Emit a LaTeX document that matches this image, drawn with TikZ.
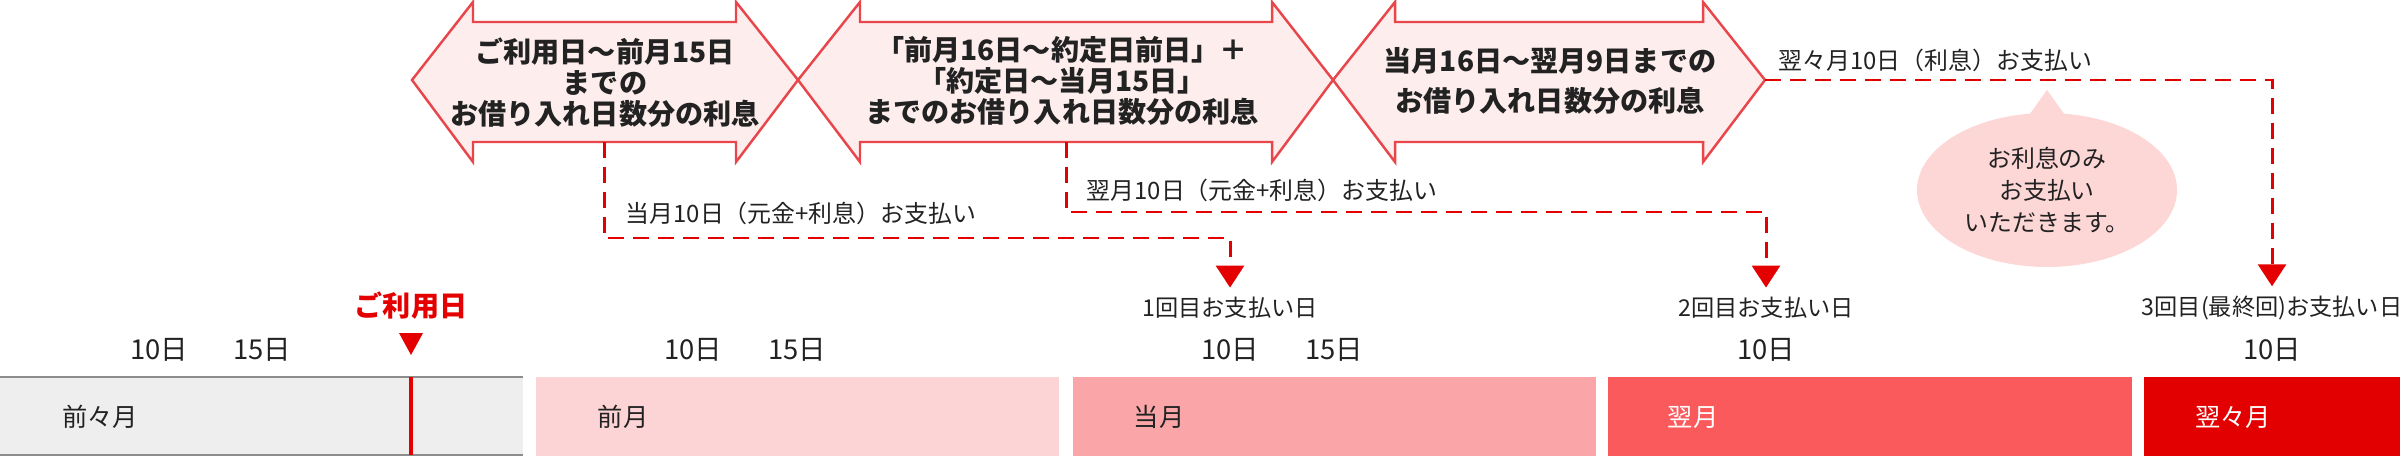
\documentclass[tikz,border=0pt]{standalone}
\usepackage{fontspec}
\setmainfont{Noto Sans CJK JP}
\usetikzlibrary{arrows.meta,shapes.callouts}

\definecolor{ink}{RGB}{34,34,34}
\definecolor{payred}{RGB}{228,0,0}
\definecolor{bandline}{RGB}{232,70,74}
\definecolor{bandfill}{RGB}{253,237,237}
\definecolor{notefill}{RGB}{253,214,214}
\definecolor{grayfill}{RGB}{238,238,238}
\definecolor{grayline}{RGB}{140,140,140}
\definecolor{monA}{RGB}{253,212,213}
\definecolor{monB}{RGB}{250,166,168}
\definecolor{monC}{RGB}{250,90,92}
\definecolor{monD}{RGB}{226,0,0}

\begin{document}
\begin{tikzpicture}[
  x=0.1mm, y=-0.1mm,
  every node/.style={font=\fontsize{6.8}{8}\selectfont, text=ink, inner sep=0pt},
  band/.style={draw=bandline, fill=bandfill, line width=0.7pt, line join=miter},
  bandtext/.style={align=center, font=\fontsize{8}{8.8}\selectfont\bfseries},
  paydash/.style={draw=payred, line width=0.85pt, dash pattern=on 1.6mm off 0.9mm,
                  shorten >=0.9mm, -{Triangle[width=2.8mm,length=2.2mm]}},
  paylabel/.style={font=\fontsize{6.6}{8}\selectfont},
  daylabel/.style={font=\fontsize{7.8}{9}\selectfont},
  monthlabel/.style={font=\fontsize{7.2}{9}\selectfont},
  notebubble/.style={ellipse callout, fill=notefill, align=center, minimum width=26mm,
                     minimum height=15.4mm, font=\fontsize{6.8}{9}\selectfont}
]
\useasboundingbox (0,0) rectangle (2400,456);

% month bars
\fill[grayfill] (0,377) rectangle (523,455);
\draw[grayline, line width=0.5pt] (0,377) -- (523,377) (0,455) -- (523,455);
\fill[monA] (536,377) rectangle (1059,456);
\fill[monB] (1073,377) rectangle (1596,456);
\fill[monC] (1608,377) rectangle (2132,456);
\fill[monD] (2144,377) rectangle (2400,456);
\draw[payred, line width=0.9pt] (411,377) -- (411,455);

\node[monthlabel] (mPrev2) at (100,417) {前々月};
\node[monthlabel] (mPrev)  at (623,417) {前月};
\node[monthlabel] (mThis)  at (1159,417) {当月};
\node[monthlabel, text=white] (mNext)  at (1693,417) {翌月};
\node[monthlabel, text=white] (mNext2) at (2233,417) {翌々月};

\node[daylabel] (dA10) at (159,350) {10日};
\node[daylabel] (dA15) at (262,350) {15日};
\node[daylabel] (dB10) at (693,350) {10日};
\node[daylabel] (dB15) at (797,350) {15日};
\node[daylabel] (dC10) at (1230,350) {10日};
\node[daylabel] (dC15) at (1334,350) {15日};
\node[daylabel] (dD10) at (1766,350) {10日};
\node[daylabel] (dE10) at (2272,350) {10日};

\node[font=\fontsize{8}{9}\selectfont\bfseries, text=payred] (useday) at (411,306) {ご利用日};
\fill[payred] (399,333) -- (423,333) -- (411,355) -- cycle;

% interest periods
\draw[band] (412,80) -- (473,2) -- (473,22) -- (736,22) -- (736,2) -- (798,80)
  -- (736,162) -- (736,142) -- (473,142) -- (473,162) -- cycle;
\draw[band] (798,80) -- (860,2) -- (860,22) -- (1272,22) -- (1272,2) -- (1333,80)
  -- (1272,162) -- (1272,142) -- (860,142) -- (860,162) -- cycle;
\draw[band] (1333,80) -- (1395,2) -- (1395,22) -- (1703,22) -- (1703,2) -- (1765,80)
  -- (1703,162) -- (1703,142) -- (1395,142) -- (1395,162) -- cycle;

\node[bandtext] (int1) at (605,83) {ご利用日〜前月15日\\までの\\お借り入れ日数分の利息};
\node[bandtext] (int2) at (1062,81) {「前月16日〜約定日前日」＋\\「約定日〜当月15日」\\までのお借り入れ日数分の利息};
\node[bandtext] (int3) at (1550,81) {当月16日〜翌月9日までの\\[2.5pt]お借り入れ日数分の利息};

\coordinate (a1) at (604,142);
\coordinate (a2) at (1066,142);
\coordinate (a3) at (1765,80);

\node[paylabel] (pay1) at (1230,308) {1回目お支払い日};
\node[paylabel] (pay2) at (1766,308) {2回目お支払い日};
\node[paylabel] (pay3) at (2272,308) {3回目(最終回)お支払い日};

\node[anchor=west] (lab1) at (625,213) {当月10日（元金+利息）お支払い};
\node[anchor=west] (lab2) at (1086,190) {翌月10日（元金+利息）お支払い};
\node[anchor=west] (lab3) at (1778,60) {翌々月10日（利息）お支払い};

\draw[paydash] (a1) -- ++(0,96) -| (pay1.north);
\draw[paydash] (a2) -- ++(0,70) -| (pay2.north);
\draw[paydash] (a3) -| (pay3.north);

\node[notebubble, callout absolute pointer={(2047,90)}] (note) at (2047,190)
  {お利息のみ\\お支払い\\いただきます。};
\end{tikzpicture}
\end{document}
